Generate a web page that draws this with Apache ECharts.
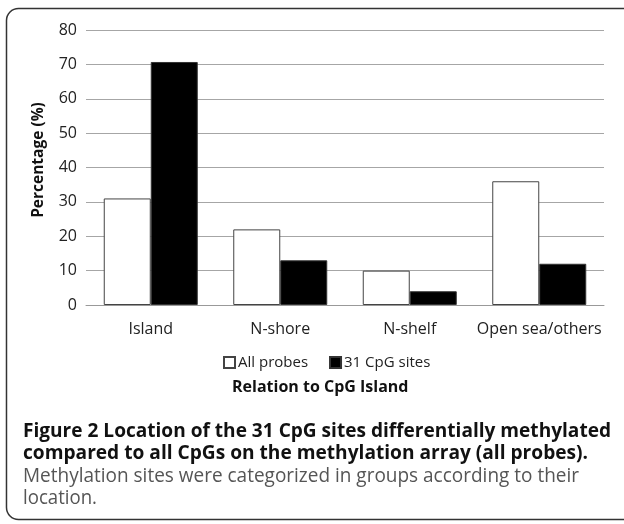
<!DOCTYPE html>
<html>
<head>
<meta charset="utf-8">
<script src="https://cdn.jsdelivr.net/npm/echarts@6/dist/echarts.min.js"></script>
<style>
html,body{margin:0;padding:0;background:#fff;}
#chart{width:624px;height:524px;}
</style>
</head>
<body>
<div id="chart"></div>
<script>
const categories = ['Island', 'N-shore', 'N-shelf', 'Open sea/others'];
const allProbes = [31, 22, 10, 36];
const cpgSites = [70.7, 13, 4, 12];
const seriesNames = ['All probes', '31 CpG sites'];
const yTicks = {min: 0, max: 80, interval: 10};
const yTitle = 'Percentage (%)';
const xTitle = 'Relation to CpG Island';
const captionLines = [
  {text: 'Figure 2 Location of the 31 CpG sites differentially methylated', bold: true, width: 588},
  {text: 'compared to all CpGs on the methylation array (all probes).', bold: true, width: 565},
  {text: 'Methylation sites were categorized in groups according to their', bold: false, width: 556},
  {text: 'location.', bold: false, width: 74}
];

const chart = echarts.init(document.getElementById('chart'), null, {renderer: 'canvas'});
const FONT = '"Open Sans", "Noto Sans", sans-serif';

const mctx = document.createElement('canvas').getContext('2d');
function scaleFor(line, size) {
  mctx.font = (line.bold ? 'bold ' : '') + size + 'px "Open Sans"';
  return line.width / mctx.measureText(line.text).width;
}
const capSize = 20;
const captionGraphics = captionLines.map((l, i) => ({
  type: 'text',
  x: 23,
  y: 421 + i * 22.5,
  scaleX: scaleFor(l, capSize),
  style: {
    text: l.text,
    font: (l.bold ? 'bold ' : '') + capSize + 'px "Open Sans"',
    fill: l.bold ? '#111' : '#555',
    textVerticalAlign: 'top'
  }
}));

chart.setOption({
  animation: false,
  backgroundColor: '#fff',
  textStyle: {fontFamily: FONT},
  grid: {left: 86, right: 20, top: 30, bottom: 219, containLabel: false},
  legend: {
    data: seriesNames,
    top: 355,
    left: 223,
    padding: 0,
    itemWidth: 11,
    itemHeight: 11,
    itemGap: 21,
    icon: 'rect',
    textStyle: {fontSize: 15, color: '#222', fontFamily: FONT, padding: [0, 0, 0, -2]}
  },
  xAxis: {
    type: 'category',
    data: categories,
    axisLine: {lineStyle: {color: '#999', width: 1}},
    axisTick: {show: false},
    axisLabel: {fontSize: 16, color: '#222', margin: 16, interval: 0, fontFamily: FONT}
  },
  yAxis: {
    type: 'value',
    min: yTicks.min,
    max: yTicks.max,
    interval: yTicks.interval,
    name: yTitle,
    nameLocation: 'middle',
    nameGap: 39,
    nameMoveOverlap: false,
    nameTextStyle: {fontSize: 15.5, fontWeight: 'bold', color: '#111', fontFamily: FONT, padding: [0, 0, 0, 15]},
    axisLine: {show: false},
    axisTick: {show: false},
    axisLabel: {fontSize: 16, color: '#222', margin: 9, fontFamily: FONT},
    splitLine: {lineStyle: {color: '#a6a6a6', width: 1}}
  },
  series: [
    {
      name: seriesNames[0],
      type: 'bar',
      data: allProbes,
      barWidth: 47,
      barGap: '0%',
      itemStyle: {color: '#fff', borderColor: '#444', borderWidth: 1}
    },
    {
      name: seriesNames[1],
      type: 'bar',
      data: cpgSites,
      barWidth: 47,
      barGap: '0%',
      itemStyle: {color: '#000', borderColor: '#333', borderWidth: 1}
    }
  ],
  graphic: [
    {
      type: 'rect',
      shape: {x: 6.5, y: 8.5, width: 680, height: 511, r: 12},
      style: {fill: 'none', stroke: '#333', lineWidth: 1.5},
      silent: true
    },
    {
      type: 'text',
      x: 232,
      y: 379,
      style: {
        text: xTitle,
        font: 'bold 16px "Open Sans", sans-serif',
        fill: '#111',
        textVerticalAlign: 'top'
      }
    }
  ].concat(captionGraphics)
});
</script>
</body>
</html>
